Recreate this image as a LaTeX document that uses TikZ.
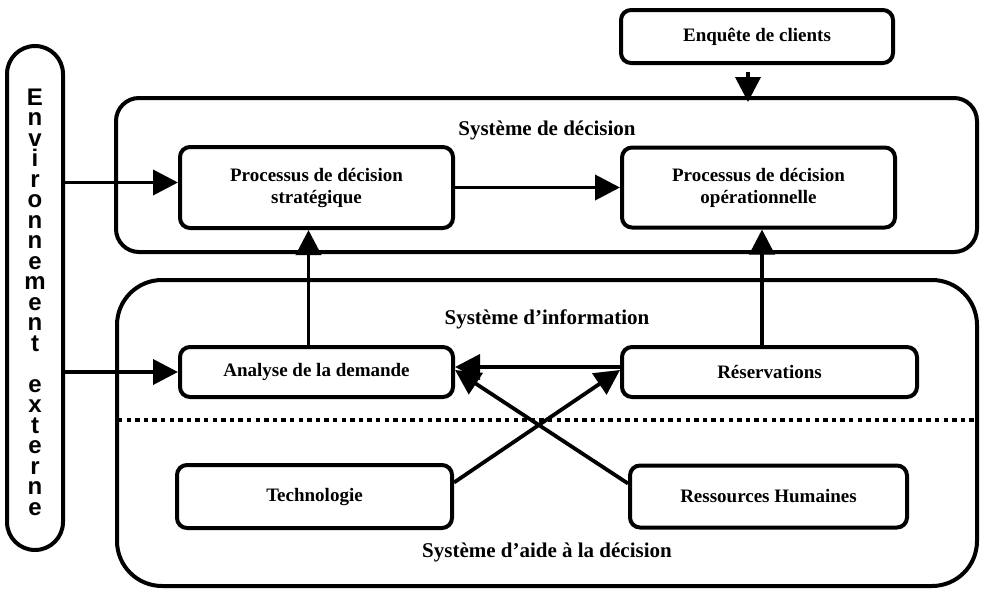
\documentclass[tikz,border=0pt]{standalone}
\usepackage{fontspec}
\setmainfont{Liberation Serif}
\setsansfont{Liberation Sans}
\usetikzlibrary{math,arrows.meta}

\begin{document}
\begin{tikzpicture}[x=1pt,y=-1pt,
	bx/.style={draw,line width=4pt,rounded corners=10pt,inner sep=0pt,align=center,font=\bfseries\fontsize{19}{22}\selectfont},
	cont/.style={draw,line width=4pt,inner sep=0pt},
	lbl/.style={font=\bfseries\fontsize{21}{24}\selectfont},
	arr/.style={line width=3.8pt,-{Triangle[length=25pt,width=25pt]}},
	sep/.style={line width=3.8pt,dash pattern=on 4.3pt off 4.3pt}]
\useasboundingbox (0,0) rectangle (983,589);
\tikzmath{
	\xana = 316.5;\xres = 769.5;
	\ydec = 187.5;\yinf = 372;\yaide = 496.5;
	{\node[cont,rounded corners=28pt,minimum width=56pt,minimum height=504pt] (env) at (35,298) {};};
	{\node[align=center,inner sep=0pt,font=\sffamily\bfseries\fontsize{24}{20.5}\selectfont] (envtxt) at (35,302)
		{E\\n\\v\\i\\r\\o\\n\\n\\e\\m\\e\\n\\t\\[20.5pt]e\\x\\t\\e\\r\\n\\e};};
	{\node[cont,rounded corners=23pt,minimum width=861pt,minimum height=154pt] (dec) at (546.5,175) {};};
	{\node[cont,rounded corners=45pt,minimum width=860pt,minimum height=306pt] (inf) at (547,433) {};};
	{\node[lbl] (ldec) at (547,130) {Système de décision};};
	{\node[lbl] (linf) at (547,319) {Système d’information};};
	{\node[lbl] (laide) at (547,552) {Système d’aide à la décision};};
	%
	{\node[bx,minimum width=272pt,minimum height=53pt] (enq) at (757,36.5) {Enquête de clients};};
	{\node[bx,minimum width=273pt,minimum height=81pt] (strat) at (\xana,\ydec) {Processus de décision\\stratégique};};
	{\node[bx,minimum width=273pt,minimum height=80pt] (op) at (758.5,\ydec) {Processus de décision\\opérationnelle};};
	{\node[bx,minimum width=273pt,minimum height=50pt] (ana) at (\xana,\yinf) {Analyse de la demande};};
	{\node[bx,minimum width=295pt,minimum height=50pt] (res) at (\xres,\yinf) {Réservations};};
	{\node[bx,minimum width=275pt,minimum height=63pt] (tech) at (314.5,\yaide) {Technologie};};
	{\node[bx,minimum width=277pt,minimum height=62pt] (rh) at (768.5,\yaide) {Ressources Humaines};};
	%
	{\coordinate (sepl) at (118,420);};
	{\coordinate (sepr) at (975,420);};
	{\draw[sep] (sepl) -- (sepr);};
	%
	{\draw[arr] ([yshift=5pt]strat.west -| env.east) -- ([yshift=5pt]strat.west);};
	{\draw[arr] (ana.west -| env.east) -- (ana.west);};
	{\draw[arr] (strat.east) -- (op.west);};
	{\draw[arr,shorten >=-6pt] ([xshift=-9pt,yshift=-7pt]enq.south) -- ([xshift=-9pt]enq.south |- dec.north);};
	{\draw[arr] ([xshift=-8pt]ana.north) -- ([xshift=-8pt]strat.south);};
	{\draw[arr] ([xshift=-7.5pt]res.north) -- ([xshift=-7.5pt]res.north |- op.south);};
	{\draw[arr] ([yshift=5pt]res.west) -- ([yshift=5pt]ana.east);};
	{\draw[arr] ([yshift=14pt]tech.east) -- ([yshift=2pt]res.west);};
	{\draw[arr] ([yshift=13pt]rh.west) -- ([yshift=2pt]ana.east);};
};
\end{tikzpicture}
\end{document}
